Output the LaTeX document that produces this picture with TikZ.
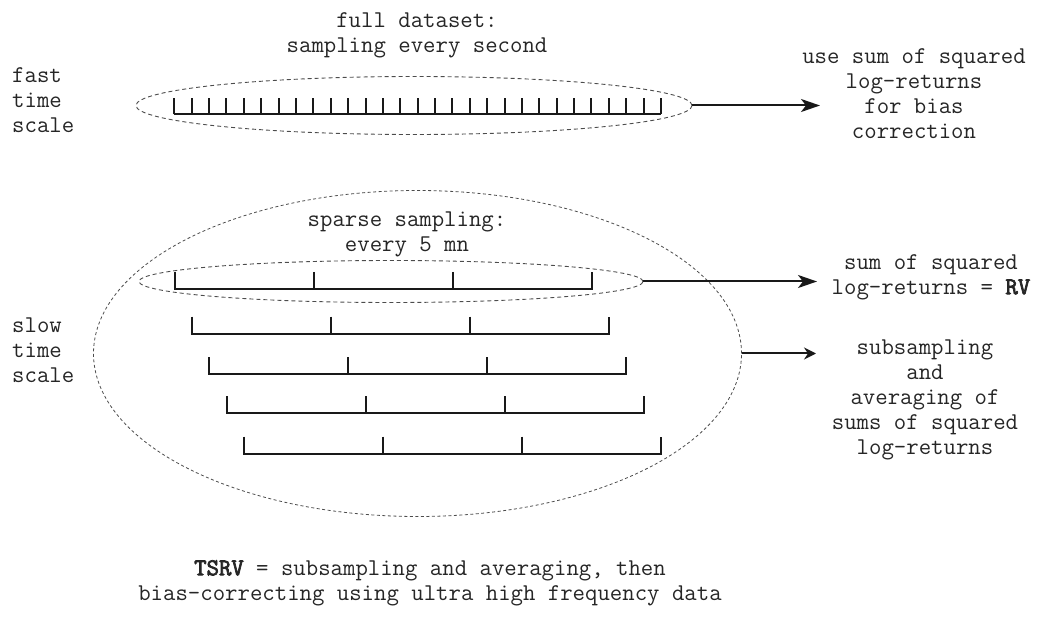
\documentclass[tikz,border=0pt]{standalone}
\usepackage{fontspec}
\newfontfamily\monobold{Latin Modern Mono}[FakeBold=3]
\usetikzlibrary{shapes.geometric,arrows.meta}
\newcommand{\bmono}[1]{{\monobold\fontsize{24.1}{25}\selectfont #1}}
\begin{document}
\begin{tikzpicture}[x=1pt,y=-1pt,
  txt/.style={font=\ttfamily\fontsize{24.1}{25}\selectfont, align=center, inner sep=0pt, text=black!85},
  ell/.style={ellipse, draw=black!70, inner sep=0pt, outer sep=0pt},
  ruler/.style={line width=2pt, draw=black!90},
  arr/.style={line width=2pt, draw=black!90, -{Stealth[length=19pt,width=13pt,inset=5pt]}},
  arrsmall/.style={line width=2pt, draw=black!90, -{Stealth[length=12pt,width=12pt,inset=4pt]}}]
\useasboundingbox (0,0) rectangle (1042,620);

% ellipses
\node[ell, dash pattern=on 4pt off 3pt, line width=0.9pt, minimum width=556pt, minimum height=58pt] (fastell) at (414,105.5) {};
\node[ell, dash pattern=on 3pt off 2.5pt, line width=0.8pt, minimum width=648pt, minimum height=326pt] (bigell) at (417.5,353.5) {};
\node[ell, dash pattern=on 4pt off 3pt, line width=0.9pt, minimum width=504pt, minimum height=42pt] (midell) at (391,281.5) {};

% fast ruler
\draw[ruler] (174.3,114.3) -- (661,114.3);
\foreach \i in {0,...,28} \draw[ruler] ({174.3+\i*17.382},114.3) -- ({174.3+\i*17.382},97.7);

% slow rulers
\foreach \x/\y in {175/289, 192/333.7, 209/374.2, 227/413.1, 244/453.6} {
  \draw[ruler] ({\x},{\y-17}) -- ({\x},{\y}) -- ({\x+417},{\y}) -- ({\x+417},{\y-17});
  \draw[ruler] ({\x+139},{\y-17}) -- ({\x+139},{\y});
  \draw[ruler] ({\x+278},{\y-17}) -- ({\x+278},{\y});
}

% texts
\node[txt] (full) at (417,35.5) {full dataset:\\sampling every second};
\node[txt] (sparse) at (407,234.5) {sparse sampling:\\every 5 mn};
\node[txt, align=left, anchor=west] (fast) at (12,100.5) {fast\\time\\scale};
\node[txt, align=left, anchor=west] (slow) at (12,350) {slow\\time\\scale};
\node[txt] (bias) at (914,94) {use sum of squared\\log-returns\\for bias\\correction};
\node[txt] (rv) at (931,277) {sum of squared\\log-returns = \bmono{RV}};
\node[txt] (sub) at (925,400) {subsampling\\and\\averaging of\\sums of squared\\log-returns};
\node[txt] (tsrv) at (430,583) {\bmono{TSRV} = subsampling and averaging, then\\bias-correcting using ultra high frequency data};

% arrows
\coordinate (fastend) at (820,105.5);
\coordinate (midend) at (817,281.5);
\coordinate (bigend) at (816,353.5);
\draw[arr] (fastell.east) -- (fastend);
\draw[arr] (midell.east) -- (midend);
\draw[arrsmall] (bigell.east) -- (bigend);
\end{tikzpicture}
\end{document}
